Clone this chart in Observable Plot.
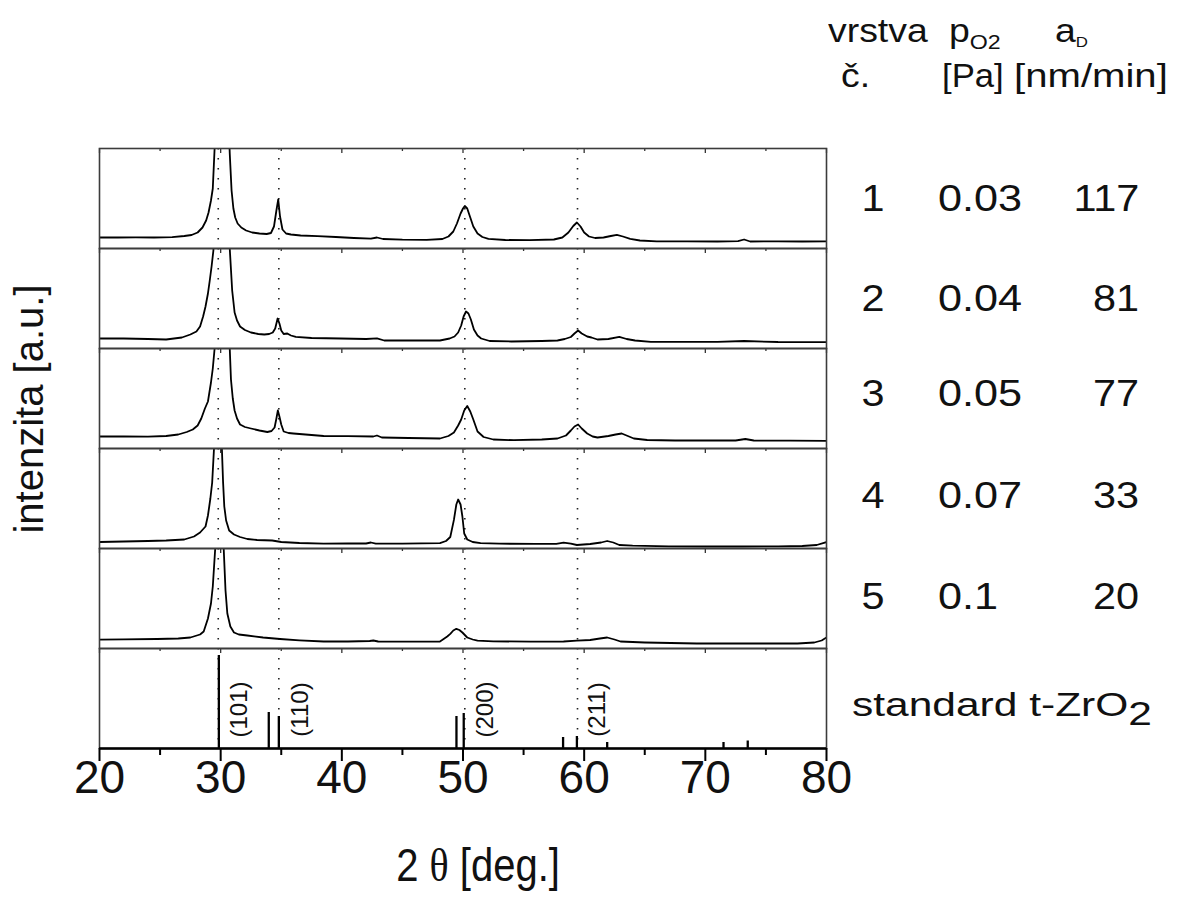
<!DOCTYPE html>
<html>
<head>
<meta charset="utf-8">
<script src="https://cdn.jsdelivr.net/npm/d3@7"></script>
<script src="https://cdn.jsdelivr.net/npm/@observablehq/plot@0.6"></script>
<style>
  html, body { margin: 0; padding: 0; background: #fff; }
  #wrap { position: relative; width: 1187px; height: 918px; overflow: hidden;
          font-family: Arial, "Liberation Sans", sans-serif; color: #111; }
  #wrap svg { position: absolute; left: 0; top: 0; }
  .t { position: absolute; white-space: nowrap; line-height: 1; }
  .t sub { font-size: 0.62em; vertical-align: -0.35em; }
  .serif { font-family: "Liberation Serif", "DejaVu Serif", serif; }
</style>
</head>
<body>
<div id="wrap"></div>
<script>
// ---------- data ----------
const panelIds = ["1", "2", "3", "4", "5", "std"];
const layerNo = ["1", "2", "3", "4", "5"];
const pO2 = ["0.03", "0.04", "0.05", "0.07", "0.1"];
const aD = ["117", "81", "77", "33", "20"];

// 2θ [deg] and intensity (in % of panel height)
const tth1 = [20, 21.5, 23, 24.5, 26, 27, 27.6, 28.1, 28.5, 28.8, 29.0, 29.2, 29.35, 29.5, 29.7, 30.0, 30.3, 30.55, 30.75, 30.9, 31.05, 31.2, 31.4, 31.7, 32.1, 32.6, 33.2, 33.8, 34.15, 34.4, 34.6, 34.75, 34.9, 35.1, 35.4, 35.8, 36.6, 38.0, 39.5, 41.0, 42.4, 42.9, 43.4, 45.0, 47.0, 48.3, 48.8, 49.2, 49.5, 49.8, 50.0, 50.15, 50.35, 50.6, 50.85, 51.2, 51.6, 52.1, 53.5, 55.5, 57.5, 58.2, 58.7, 59.1, 59.4, 59.7, 60.0, 60.4, 60.9, 61.6, 62.2, 62.7, 63.2, 63.8, 64.6, 66.0, 68.5, 71.0, 72.7, 73.2, 73.7, 76.0, 78.0, 80.0];
const int1 = [11, 11, 11.2, 11, 11.4, 12.5, 13.5, 16, 21, 28, 36, 48, 60, 100, 170, 260, 250, 160, 95, 58, 40, 31, 25, 21, 18, 16, 15, 14.5, 15.5, 22, 38, 49, 32, 19, 15, 14, 13, 12.3, 11.5, 10.5, 9.8, 11, 9.5, 8.8, 8.6, 9.5, 12, 17, 25, 35, 40, 42.5, 40, 31, 22, 15, 11.5, 9.6, 8.5, 8.3, 9, 11, 16, 22.5, 26, 22, 16, 12, 10.5, 11, 12.5, 13.6, 12, 9.6, 8, 7.2, 7.2, 7, 7.3, 9, 7, 7.2, 7, 7.2];

const tth2 = [20, 22, 24, 25.5, 26.8, 27.5, 28.0, 28.3, 28.55, 28.75, 28.95, 29.1, 29.25, 29.4, 29.6, 29.9, 30.2, 30.5, 30.75, 30.95, 31.15, 31.35, 31.6, 32.0, 32.5, 33.1, 33.6, 34.0, 34.3, 34.5, 34.7, 34.85, 35.0, 35.2, 35.5, 35.8, 36.2, 37.5, 39.9, 42.0, 42.9, 43.5, 46.0, 48.1, 48.9, 49.3, 49.6, 49.85, 50.05, 50.25, 50.45, 50.65, 50.9, 51.2, 51.5, 52.2, 54.0, 56.5, 57.8, 58.4, 58.9, 59.2, 59.5, 59.8, 60.25, 60.6, 61.1, 62.0, 62.9, 63.5, 64.2, 65.5, 68.0, 71.0, 73.2, 76.0, 78.5, 80.0];
const int2 = [10, 10, 9.5, 9, 11, 14, 17, 22, 32, 42, 55, 68, 82, 98, 150, 240, 250, 180, 100, 58, 36, 28, 22, 18.5, 16, 14.5, 14, 14.5, 16, 20, 30, 25, 18, 14.5, 15, 13, 11.6, 10.5, 10, 9.5, 10.2, 8, 8, 8, 10, 12, 16, 23, 32, 37, 35, 29, 19, 13, 10, 7.5, 7, 7.5, 8, 9.5, 11.5, 15, 18, 15, 12, 11, 9, 9.5, 11.6, 9.5, 8, 6.7, 6.6, 6.6, 7.5, 6.5, 6.4, 6.3];

const tth3 = [20, 22, 24, 25.5, 26.5, 27.2, 27.7, 28.1, 28.4, 28.7, 28.95, 29.2, 29.35, 29.5, 29.7, 30.0, 30.3, 30.55, 30.75, 30.85, 31.0, 31.15, 31.35, 31.6, 32.0, 32.5, 33.2, 33.85, 34.2, 34.45, 34.6, 34.72, 34.85, 35.0, 35.2, 35.6, 36.0, 37.0, 38.5, 40.5, 42.6, 42.9, 43.3, 45.5, 48.1, 48.8, 49.25, 49.6, 49.85, 50.1, 50.35, 50.6, 50.85, 51.2, 51.7, 52.5, 54.2, 56.5, 57.8, 58.5, 58.9, 59.2, 59.5, 59.8, 60.25, 60.7, 61.1, 62.0, 62.6, 63.1, 63.6, 64.1, 65.2, 67.5, 70.0, 72.5, 73.3, 74.0, 77.0, 80.0];
const int3 = [12, 12, 11.8, 12.5, 14, 16.5, 19, 23, 30, 40, 47, 66, 80, 100, 150, 230, 240, 170, 100, 69, 50, 38, 30, 24, 21.5, 20, 18, 16.5, 17.5, 21, 30, 38, 32, 24, 17, 15.5, 15, 14, 12.5, 12.3, 12, 13, 11, 10.5, 10, 12.5, 16, 23, 29, 38, 42.5, 37, 29, 17, 11.5, 9, 8.3, 9, 10, 13, 18, 22, 24, 20, 15, 12, 11, 12.5, 14, 15, 12.5, 10, 8.5, 8, 8, 8, 9.5, 8, 7.8, 7.6];

const tth4 = [20, 22, 24, 25.5, 27.0, 27.8, 28.3, 28.75, 28.95, 29.15, 29.3, 29.45, 29.6, 29.8, 30.0, 30.1, 30.2, 30.3, 30.45, 30.7, 31.1, 31.6, 32.2, 33.0, 34.25, 35.0, 36.5, 38.5, 40.5, 42.0, 42.4, 42.8, 45.0, 48.1, 48.6, 48.95, 49.25, 49.45, 49.6, 49.8, 49.95, 50.1, 50.35, 50.8, 51.45, 53.0, 56.0, 57.7, 58.3, 58.9, 59.4, 60.5, 61.4, 61.9, 62.4, 62.9, 64.0, 67.0, 70.0, 73.0, 76.0, 78.0, 79.2, 80.0];
const int4 = [6.5, 7, 7.5, 8, 9, 12, 16, 22, 33, 50, 66, 100, 170, 250, 180, 100, 66, 42, 28, 18, 14, 11.5, 9.5, 8.5, 8, 6.5, 5.5, 4.8, 5, 5, 6, 4.8, 4.8, 5.4, 7.5, 11.5, 28.6, 44, 49, 44, 32, 15, 9, 6.5, 5.4, 4.8, 4.6, 4.6, 5.8, 4.8, 3.5, 4.5, 6, 7.5, 6, 3.5, 2.8, 2.2, 2, 2, 2.2, 2.5, 3.5, 6.4];

const tth5 = [20, 22, 24.75, 26.5, 27.5, 28.3, 28.6, 28.95, 29.2, 29.35, 29.55, 29.75, 30.0, 30.15, 30.25, 30.4, 30.55, 30.8, 31.1, 31.5, 32.2, 33.5, 34.9, 36.5, 38.5, 40.5, 42.3, 42.6, 43.0, 45.0, 46.8, 48.1, 48.4, 48.7, 48.95, 49.2, 49.45, 49.7, 49.95, 50.35, 50.8, 51.2, 52.5, 55.6, 58.3, 59.4, 60.5, 61.3, 61.9, 62.5, 63.0, 65.0, 69.3, 73.0, 77.6, 79.0, 79.6, 80.0];
const int5 = [8.9, 9.2, 9.5, 10, 11, 14, 17, 30, 45, 62, 100, 180, 250, 160, 100, 58, 35, 22, 16, 14, 13, 11, 9.5, 8.2, 7, 7, 7.5, 8, 7, 6.8, 6.8, 7, 9.5, 12, 14.6, 18, 19.7, 18.5, 16, 11, 9, 7.8, 7.2, 6.8, 7, 7.8, 8.5, 10, 11, 9, 7, 6, 5, 5, 5, 6, 8, 11];

// standard t-ZrO2 line positions and heights (% of panel)
const stdPos = [29.85, 33.97, 34.8, 49.46, 50.06, 58.26, 59.4, 61.9, 71.5, 73.5];
const stdInt = [93, 36, 32, 32, 35, 11, 12, 6, 6, 7.5];

// reflections marked with dotted guides and labels
const refLines = [29.8, 34.8, 50.15, 59.45];
const hklLabels = ["(101)", "(110)", "(200)", "(211)"];
const hklX = [31.55, 36.6, 51.85, 61.1];
const hklY = [39, 39, 39, 39];

const majorTicks = [20, 30, 40, 50, 60, 70, 80];
const minorTicks = [25, 35, 45, 55, 65, 75];

// ---------- tables for the library ----------
const series = [[tth1, int1], [tth2, int2], [tth3, int3], [tth4, int4], [tth5, int5]];
const curveRows = series.flatMap(([xs, ys], i) =>
  xs.map((x, j) => ({panel: panelIds[i], tth: x, I: ys[j]})));
const stdRows = stdPos.map((p, i) => ({panel: "std", pos: p, h: stdInt[i]}));
const hklRows = hklLabels.map((t, i) => ({panel: "std", x: hklX[i], y: hklY[i], text: t}));
const topTickRows = panelIds.flatMap(p => [
  ...majorTicks.map(t => ({panel: p, x: t, len: 95})),
  ...minorTicks.map(t => ({panel: p, x: t, len: 97}))
]);

const chart = Plot.plot({
  width: 1187,
  height: 918,
  marginLeft: 99,
  marginRight: 361,
  marginTop: 147,
  marginBottom: 169,
  x: {domain: [20, 80]},
  y: {domain: [0, 100], axis: null},
  fy: {domain: panelIds, axis: null, padding: 0},
  style: {fontFamily: "Arial, 'Liberation Sans', sans-serif", background: "transparent", color: "#111"},
  marks: [
    Plot.ruleX(refLines, {x: d => d, stroke: "#222", strokeWidth: 1.6, strokeDasharray: "1.6,8.4"}),
    Plot.line(curveRows, {x: "tth", y: "I", z: "panel", fy: "panel", stroke: "#000", strokeWidth: 1.8, clip: true}),
    Plot.ruleX(stdRows, {x: "pos", y1: 0, y2: "h", fy: "panel", stroke: "#000", strokeWidth: 2.3}),
    Plot.text(hklRows, {x: "x", y: "y", text: "text", fy: "panel", rotate: -90, fontSize: 24, fill: "#111"}),
    Plot.ruleX(topTickRows, {x: "x", y1: 100, y2: "len", fy: "panel", stroke: "#333", strokeWidth: 1.3}),
    Plot.frame({stroke: "#3c3c3c", strokeWidth: 1.6}),
    Plot.ruleY([{panel: "std", v: 0}], {y: "v", fy: "panel", stroke: "#000", strokeWidth: 2.5}),
    Plot.axisX(majorTicks, {anchor: "bottom", tickSize: 13, tickPadding: -1, fontSize: 46, strokeWidth: 2, stroke: "#000", fill: "#111", tickFormat: d => String(d), label: null}),
    Plot.axisX(minorTicks, {anchor: "bottom", tickSize: 7, strokeWidth: 2, stroke: "#000", tickFormat: () => "", label: null})
  ]
});

const wrap = document.getElementById("wrap");
wrap.appendChild(chart);

// ---------- text around the chart ----------
function addText(html, x, baseline, size, anchor, sx = 1, sy = 1) {
  const d = document.createElement("div");
  d.className = "t";
  d.style.fontSize = size + "px";
  d.style.top = (baseline - 0.8465 * size) + "px";
  const sc = `scale(${sx}, ${sy})`;
  if (anchor === "end") {
    d.style.right = (1187 - x) + "px";
    d.style.transformOrigin = "right 85%";
    d.style.transform = sc;
  } else if (anchor === "middle") {
    d.style.left = x + "px";
    d.style.transformOrigin = "left 85%";
    d.style.transform = `${sc} translateX(-50%)`;
  } else {
    d.style.left = x + "px";
    d.style.transformOrigin = "left 85%";
    d.style.transform = sc;
  }
  d.innerHTML = html;
  wrap.appendChild(d);
  return d;
}

// y-axis title
const yl = document.createElement("div");
yl.className = "t";
yl.style.fontSize = "40px";
yl.style.left = "29px";
yl.style.top = "409px";
yl.style.transform = "translate(-50%, -50%) rotate(-90deg)";
yl.textContent = "intenzita [a.u.]";
wrap.appendChild(yl);

// x-axis title
addText("2 <span class=\"serif\">θ</span> [deg.]", 478, 881, 40, "middle", 1, 1.15);

// table header
const hs = 34, hx = 1.1;
addText("vrstva", 828, 42, hs, "start", hx);
addText("p<sub>O2</sub>", 949, 42, hs, "start", hx);
addText("a<sub style=\"font-size:0.45em\">D</sub>", 1055, 42, hs, "start", hx);
addText("č.", 841, 87, hs, "start", hx);
addText("[Pa]", 942, 87, hs, "start", 1.02);
addText("[nm/min]", 1014, 87, hs, "start", 1.18);

// table rows aligned with the panels
const rowBaselines = [211, 311, 406, 508, 609];
layerNo.forEach((v, i) => {
  addText(v, 873, rowBaselines[i], 36, "middle", 1.15);
  addText(pO2[i], 938, rowBaselines[i], 36, "start", 1.2);
  addText(aD[i], 1139, rowBaselines[i], 36, "end", 1.15);
});
addText("standard t-ZrO<sub style=\"font-size:1em;vertical-align:-0.25em\">2</sub>", 852, 716, 34, "start", 1.25);
</script>
</body>
</html>
